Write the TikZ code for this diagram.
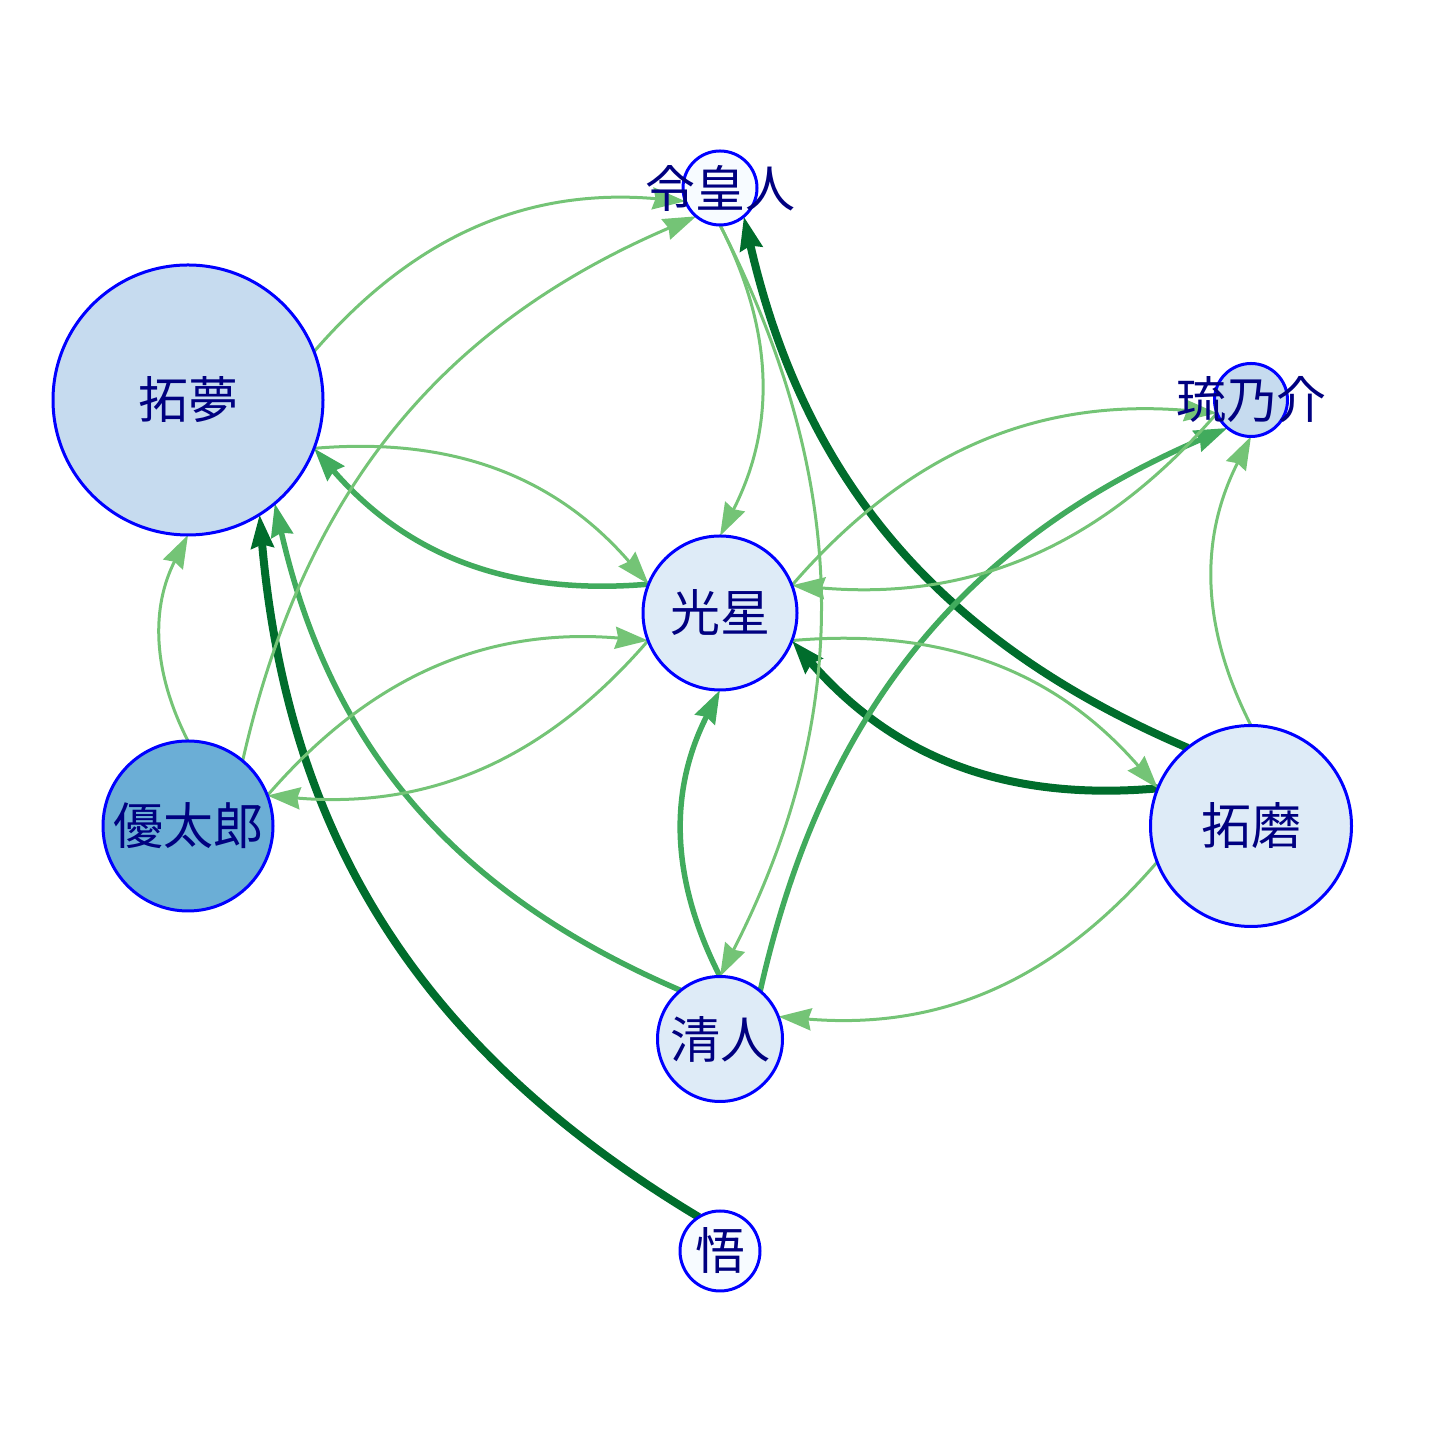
\documentclass[tikz,border=0pt]{standalone}
\usepackage{fontspec}
\newfontfamily\cjk{Noto Sans CJK JP}
\usetikzlibrary{arrows.meta,backgrounds}
\definecolor{edark}{HTML}{006D2C}
\definecolor{emid}{HTML}{41AB5D}
\definecolor{elight}{HTML}{74C476}
\definecolor{fa}{HTML}{F7FBFF}
\definecolor{fb}{HTML}{DEEBF7}
\definecolor{fc}{HTML}{C6DBEF}
\definecolor{fd}{HTML}{6BAED6}
\definecolor{txt}{HTML}{000080}
\begin{document}
\begin{tikzpicture}[x=1pt,y=1pt,
  vtx/.style={circle,draw=blue,line width=3pt,inner sep=0pt,outer sep=0pt,minimum size=#1},
  lbl/.style={font=\cjk\fontsize{50}{50}\selectfont,text=txt,inner sep=0pt},
  edg/.style={-{Stealth[length=33pt,width=22pt,inset=3pt]},bend left=27},
  ed/.style={edg,draw=edark,line width=8pt},
  em/.style={edg,draw=emid,line width=5.5pt},
  el/.style={edg,draw=elight,line width=3pt}]
\useasboundingbox (0,0) rectangle (1440,1440);
\node[vtx=74pt,fill=fa] (L) at (720,1252) {};
\node[vtx=270pt,fill=fc] (T) at (188,1040) {};
\node[vtx=73pt,fill=fc] (R) at (1251,1040) {};
\node[vtx=154pt,fill=fb] (K) at (720,827) {};
\node[vtx=170pt,fill=fd] (Y) at (188,614) {};
\node[vtx=201pt,fill=fb] (M) at (1251,614) {};
\node[vtx=125pt,fill=fb] (C) at (720,401) {};
\node[vtx=80pt,fill=fa] (S) at (720,189) {};
\node[lbl] (tL) at (L) {令皇人};
\node[lbl] (tT) at (T) {拓夢};
\node[lbl] (tR) at (R) {琉乃介};
\node[lbl] (tK) at (K) {光星};
\node[lbl] (tY) at (Y) {優太郎};
\node[lbl] (tM) at (M) {拓磨};
\node[lbl] (tC) at (C) {清人};
\node[lbl] (tS) at (S) {悟};
\begin{scope}[on background layer]
\draw[ed] (S.122) to (T.-58);
\draw[ed] (M.129.8) to (L.-50.2);
\draw[ed] (M.158.1) to (K.-21.9);
\draw[em] (K.158.2) to (T.-21.8);
\draw[el] (T.-21.8) to (K.158.2);
\draw[em] (C.129.8) to (T.-50.2);
\draw[em] (C.50.3) to (R.230.3);
\draw[em] (C.90) to (K.-90);
\draw[el] (L.-90) to (C.90);
\draw[el] (L.-90) to (K.90);
\draw[el] (T.21.7) to (L.201.7);
\draw[el] (Y.50.2) to (L.230.2);
\draw[el] (Y.90) to (T.-90);
\draw[el] (Y.21.8) to (K.201.8);
\draw[el] (K.201.8) to (Y.21.8);
\draw[el] (K.-21.9) to (M.158.1);
\draw[el] (R.201.9) to (K.21.9);
\draw[el] (K.21.9) to (R.201.9);
\draw[el] (M.90) to (R.-90);
\draw[el] (M.201.9) to (C.21.9);
\end{scope}
\end{tikzpicture}
\end{document}
